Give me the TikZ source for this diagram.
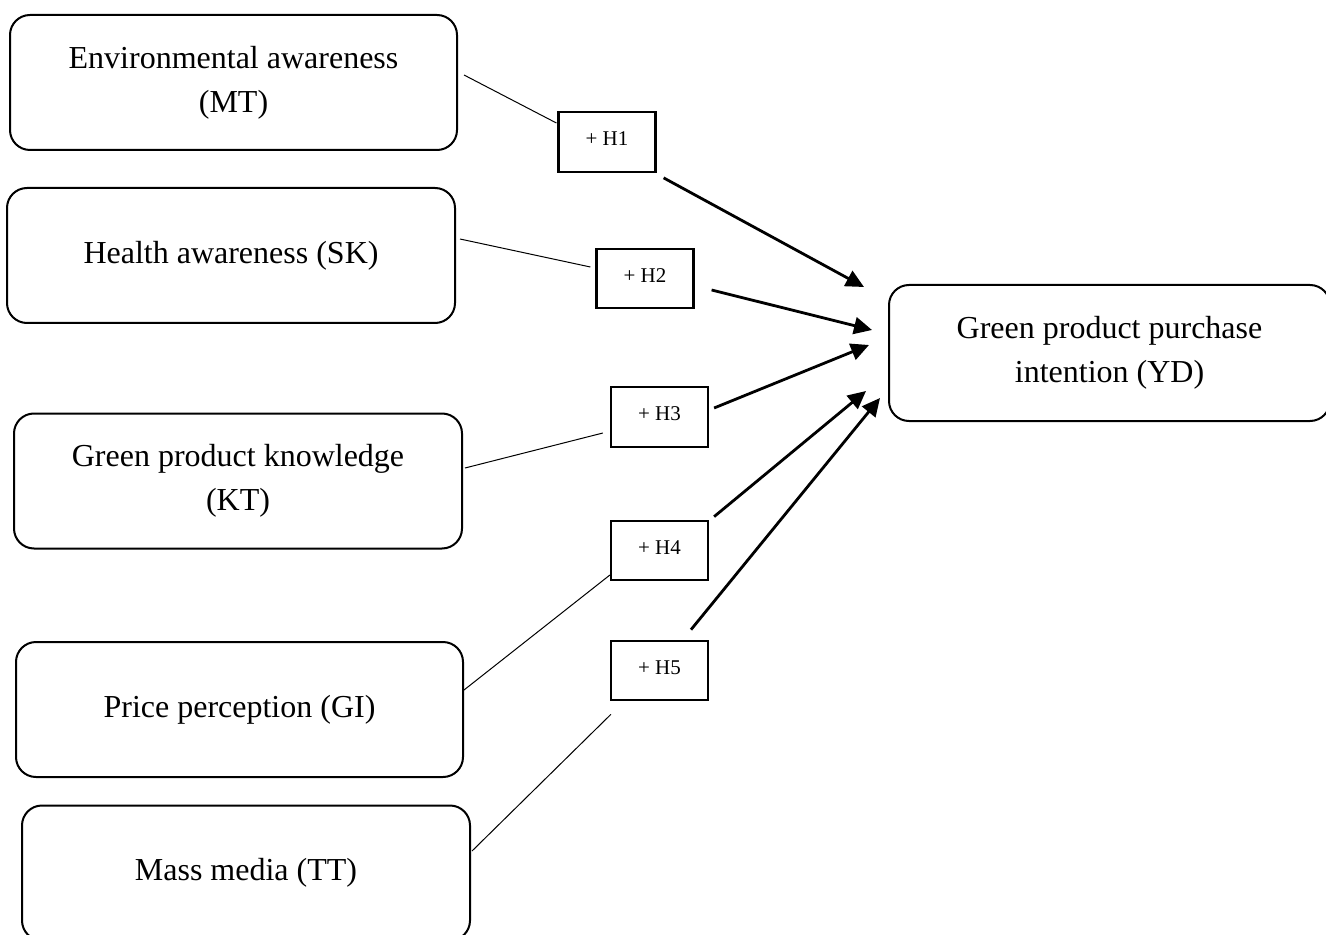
\documentclass[tikz,border=0pt]{standalone}
\usepackage{fontspec}
\setmainfont{Liberation Serif}
\usetikzlibrary{arrows.meta,calc}
\tikzset{
  varbox/.style={draw, line width=1pt, rounded corners=10pt, align=center,
    minimum width=#1, minimum height=67.5pt, inner sep=0pt,
    font=\fontsize{16}{22}\selectfont},
  hypbox/.style={draw, line width=1.1pt, minimum width=48.5pt, minimum height=29.75pt,
    inner sep=0pt, font=\fontsize{10.5}{12}\selectfont},
  thinlink/.style={line width=0.5pt},
  arrowlink/.style={line width=1.4pt, -{Triangle[length=9pt,width=8.5pt]}}
}
\begin{document}
\begin{tikzpicture}[x=0.5pt,y=-0.5pt]
\useasboundingbox (0,0) rectangle (1326,935);
% source constructs
\node[varbox=223.5pt] (b1) at (233.5,82.5) {Environmental awareness\\(MT)};
\node[varbox=224pt] (b2) at (231,255.5) {Health awareness (SK)};
\node[varbox=224pt] (b3) at (238,481) {Green product knowledge\\(KT)};
\node[varbox=223.5pt] (b4) at (239.5,709.5) {Price perception (GI)};
\node[varbox=224pt] (b5) at (246,873) {Mass media (TT)};
% outcome
\node[varbox=220.5pt, minimum height=68pt] (yd) at (1109.5,353) {Green product purchase\\intention (YD)};
% hypotheses
\node[hypbox] (h1) at (607,142) {\raisebox{3pt}{+ H1}};
\node[hypbox] (h2) at (645,278.5) {\raisebox{3pt}{+ H2}};
\node[hypbox] (h3) at (659.5,417) {\raisebox{3pt}{+ H3}};
\node[hypbox] (h4) at (659.5,550.5) {\raisebox{3pt}{+ H4}};
\node[hypbox] (h5) at (659.5,670.5) {\raisebox{3pt}{+ H5}};
% thin links from constructs to hypothesis boxes
\draw[thinlink] ([shift={(6,-7.5)}]b1.east) -- ([shift={(-1,-19)}]h1.west);
\draw[thinlink] ([shift={(4,-16.5)}]b2.east) -- ([shift={(-5,-11.5)}]h2.west);
\draw[thinlink] ([shift={(2,-13)}]b3.east) -- ([shift={(-7,16)}]h3.west);
\draw[thinlink] ([shift={(0,-19.5)}]b4.east) -- ([shift={(0,24.5)}]h4.west);
\draw[thinlink] ([shift={(1,-22)}]b5.east) -- ([shift={(1,13)}]h5.south west);
% arrows to outcome
\draw[arrowlink] ([shift={(7,5)}]h1.south east) -- ([shift={(-24,-66)}]yd.west);
\draw[arrowlink] ([shift={(17,11.5)}]h2.east) -- ([shift={(-16,-23)}]yd.west);
\draw[arrowlink] ([shift={(5,-9)}]h3.east) -- ([shift={(-19,-8)}]yd.west);
\draw[arrowlink] ([shift={(5,-3)}]h4.north east) -- ([shift={(-22,38)}]yd.west);
\draw[arrowlink] ([shift={(31.5,-10)}]h5.north) -- ([shift={(-8,45)}]yd.west);
\end{tikzpicture}
\end{document}
